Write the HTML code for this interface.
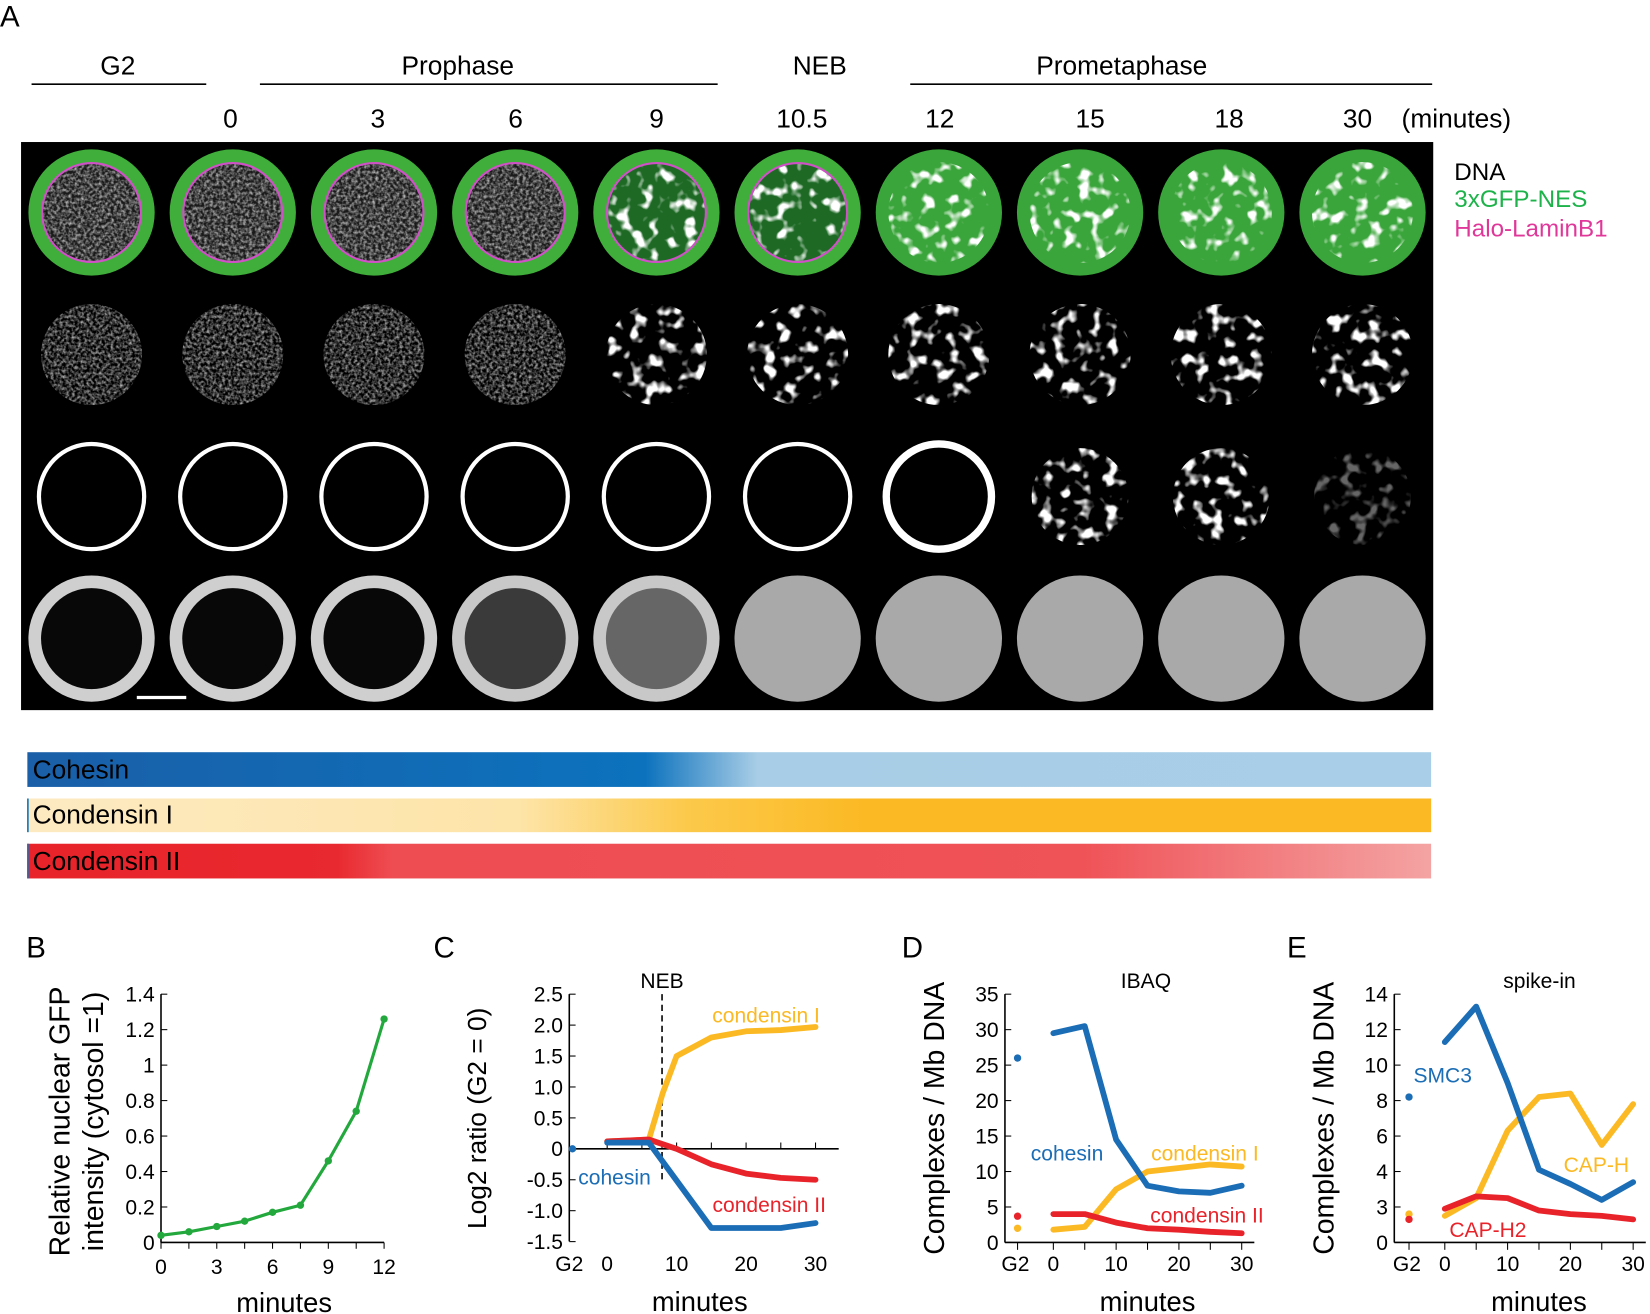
<!DOCTYPE html>
<html><head><meta charset="utf-8"><style>
html,body{margin:0;padding:0;background:#fff;}
svg{display:block;font-family:"Liberation Sans",sans-serif;}
</style></head><body>
<svg id="fig" width="1650" height="1314" viewBox="0 0 1568 1249" preserveAspectRatio="none" xmlns="http://www.w3.org/2000/svg">
<defs>
<filter id="noise" x="0" y="0" width="100%" height="100%"><feTurbulence type="fractalNoise" baseFrequency="0.35" numOctaves="2" seed="3"/><feColorMatrix values="0 0 0 0 1  0 0 0 0 1  0 0 0 0 1  0 0 0 1.3 -0.45"/><feComposite in2="SourceGraphic" operator="in"/></filter>
<filter id="blobs" x="0" y="0" width="100%" height="100%"><feTurbulence type="fractalNoise" baseFrequency="0.08" numOctaves="2" seed="7"/><feColorMatrix values="0 0 0 0 1  0 0 0 0 1  0 0 0 0 1  0 0 0 6 -3.2"/><feComposite in2="SourceGraphic" operator="in"/></filter>
<linearGradient id="gCoh" x1="0" x2="1"><stop offset="0" stop-color="#1a5fa8"/><stop offset="0.44" stop-color="#0c72bd"/><stop offset="0.52" stop-color="#a8cde6"/><stop offset="1" stop-color="#a9cfe8"/></linearGradient>
<linearGradient id="gC1" x1="0" x2="1"><stop offset="0" stop-color="#fdeac2"/><stop offset="0.35" stop-color="#fde4a8"/><stop offset="0.47" stop-color="#fcc94a"/><stop offset="0.6" stop-color="#fbb923"/><stop offset="1" stop-color="#fbb923"/></linearGradient>
<linearGradient id="gC2" x1="0" x2="1"><stop offset="0" stop-color="#e8232a"/><stop offset="0.22" stop-color="#e8292f"/><stop offset="0.26" stop-color="#ee4d52"/><stop offset="0.75" stop-color="#ef5257"/><stop offset="1" stop-color="#f4a3a3"/></linearGradient>
</defs>

<text x="0" y="25" font-size="28">A</text>
<g font-size="25" text-anchor="middle">
<text x="112" y="71">G2</text><line x1="30" y1="80" x2="196" y2="80" stroke="#000" stroke-width="1.5"/>
<text x="435" y="71">Prophase</text><line x1="247" y1="80" x2="682" y2="80" stroke="#000" stroke-width="1.5"/>
<text x="779" y="71">NEB</text>
<text x="1066" y="71">Prometaphase</text><line x1="865" y1="80" x2="1361" y2="80" stroke="#000" stroke-width="1.5"/>
</g>
<g id="times" font-size="25" text-anchor="middle"></g>
<g font-size="23">
<text x="1382" y="171" fill="#000">DNA</text>
<text x="1382" y="197" fill="#1db34a">3xGFP-NES</text>
<text x="1382" y="225" fill="#e0389a">Halo-LaminB1</text>
</g>
<rect x="20" y="135" width="1342" height="540" fill="#000"/>
<g id="cells"></g>
<line x1="130" y1="663" x2="177" y2="663" stroke="#fff" stroke-width="3"/>

<g font-size="25">
<rect x="26" y="715" width="1334" height="33" fill="url(#gCoh)"/><text x="31" y="740">Cohesin</text>
<rect x="26" y="759" width="1334" height="32" fill="url(#gC1)"/><line x1="26.5" y1="759" x2="26.5" y2="791" stroke="#0c72bd" stroke-width="1.5"/><text x="31" y="783">Condensin I</text>
<rect x="26" y="802" width="1334" height="33" fill="url(#gC2)"/><line x1="26.5" y1="802" x2="26.5" y2="835" stroke="#0c72bd" stroke-width="1.5"/><text x="31" y="827">Condensin II</text>
</g>

<g font-size="28">
<text x="25" y="910">B</text>
<text x="412" y="910">C</text>
<text x="857" y="910">D</text>
<text x="1223" y="910">E</text>
</g>
<g id="charts"></g>
</svg>
<script>
// ---------- chart data ----------
const timeLabels = ["0","3","6","9","10.5","12","15","18","30","(minutes)"];
const bX = [0,1.5,3,4.5,6,7.5,9,10.5,12];
const bY = [0.04,0.06,0.09,0.12,0.17,0.21,0.46,0.74,1.26];
const bYTicks = ["0","0.2","0.4","0.6","0.8","1","1.2","1.4"];
const bXTicks = [0,3,6,9,12];

const cXCohesin = [0,6,15,25,30];
const cYCohesin = [0.1,0.1,-1.28,-1.28,-1.2];
const cXCond1 = [0,6,8,10,15,20,25,30];
const cYCond1 = [0.12,0.15,0.9,1.5,1.8,1.9,1.92,1.97];
const cXCond2 = [0,6,10,15,20,25,30];
const cYCond2 = [0.12,0.15,0.0,-0.25,-0.4,-0.47,-0.5];
const cG2 = [0];
const cYTicks = ["-1.5","-1.0","-0.5","0","0.5","1.0","1.5","2.0","2.5"];
const cNEB = 7.9;

const dX = [0,5,10,15,20,25,30];
const dCohesin = [29.5,30.5,14.5,8,7.2,7,8];
const dCond1 = [1.8,2.2,7.5,10,10.5,11,10.7];
const dCond2 = [4,4,2.8,2,1.8,1.5,1.3];
const dG2 = [26,2,3.7];
const dYTicks = ["0","5","10","15","20","25","30","35"];

const eX = [0,5,10,15,20,25,30];
const eSMC3 = [11.3,13.3,9,4.1,3.3,2.4,3.4];
const eCAPH = [1.5,2.5,6.3,8.2,8.4,5.5,7.8];
const eCAPH2 = [1.9,2.6,2.5,1.8,1.6,1.5,1.3];
const eG2 = [8.2,1.6,1.3];
const eYTicks = ["0","3","4","6","8","10","12","14"];
const xTicksTime = ["G2","0","10","20","30"];

const NS="http://www.w3.org/2000/svg";
function mk(tag,attrs,parent,txt){const e=document.createElementNS(NS,tag);for(const k in attrs)e.setAttribute(k,attrs[k]);if(txt!==undefined)e.textContent=txt;parent.appendChild(e);return e;}
const C={blue:"#1b6db5",yel:"#fbb923",red:"#e8232a",green:"#22a83c"};

// time labels
const tl=document.getElementById('times');
const tlx=[219,359,490,624,762,893,1036,1168,1290,1384];
timeLabels.forEach((t,i)=>{const e=mk('text',{x:tlx[i],y:121},tl,t);

});

// cells
const cg=document.getElementById('cells');
for(let c=0;c<10;c++){
  const cx=20+134.2*c+67, r=60;
  let y=202;
  if(c<6){mk('circle',{cx,cy:y,r:r,fill:"#3fae3a"},cg);
    mk('circle',{cx,cy:y,r:47,fill:c<4?"#1a1a1a":"#1e6a25",stroke:"#d050c8","stroke-width":2},cg);
    mk('circle',{cx,cy:y,r:46,fill:"#888",filter:c<4?"url(#noise)":"url(#blobs)"},cg);}
  else {mk('circle',{cx,cy:y,r:r,fill:"#3aa53a"},cg);
    mk('circle',{cx,cy:y,r:48,fill:"#fff",filter:"url(#blobs)"},cg);}
  y=337;
  if(c<4) mk('circle',{cx,cy:y,r:48,fill:"#777",filter:"url(#noise)"},cg);
  else mk('circle',{cx,cy:y,r:48,fill:"#fff",filter:"url(#blobs)"},cg);
  y=472;
  if(c<7) mk('circle',{cx,cy:y,r:50,fill:"none",stroke:"#fff","stroke-width":c<6?4:7},cg);
  else mk('circle',{cx,cy:y,r:46,fill:"#fff",filter:"url(#blobs)",opacity:c==9?0.4:1},cg);
  y=607;
  if(c<3){mk('circle',{cx,cy:y,r:r,fill:"#cfcfcf"},cg);mk('circle',{cx,cy:y,r:48,fill:"#080808"},cg);}
  else if(c<5){mk('circle',{cx,cy:y,r:r,fill:"#c8c8c8"},cg);mk('circle',{cx,cy:y,r:48,fill:c==3?"#3a3a3a":"#666"},cg);}
  else mk('circle',{cx,cy:y,r:r,fill:"#a9a9a9"},cg);
}

const charts=document.getElementById('charts');
function axes(g,ox,x1,yTop,yBot){
  mk('line',{x1:ox,y1:yTop,x2:ox,y2:yBot,stroke:"#000","stroke-width":1.5},g);
  mk('line',{x1:ox,y1:yBot,x2:x1,y2:yBot,stroke:"#000","stroke-width":1.5},g);
}
function poly(g,xs,ys,fx,fy,col,w,name){
  const p=xs.map((x,i)=>fx(x)+","+fy(ys[i])).join(" ");
  const e=mk('polyline',{points:p,fill:"none",stroke:col,"stroke-width":w,"stroke-linejoin":"round","stroke-linecap":"round"},g);
  
  
  return e;
}
function dot(g,x,y,col,name){const e=mk('circle',{cx:x,cy:y,r:3.5,fill:col},g);
  
  }

// ---- B ----
{const g=mk('g',{},charts);
 const fx=x=>153+x*(365-153)/12, fy=v=>1181-v*(1181-945)/1.4;
 axes(g,153,365,945,1181);
 bYTicks.forEach((t,i)=>{const v=i*0.2;mk('line',{x1:153,y1:fy(v),x2:159,y2:fy(v),stroke:"#000"},g);mk('text',{x:147,y:fy(v)+7,"text-anchor":"end","font-size":20},g,t);});
 for(let x=0;x<=12;x+=1.5)mk('line',{x1:fx(x),y1:1181,x2:fx(x),y2:1187,stroke:"#000"},g);
 bXTicks.forEach(x=>mk('text',{x:fx(x),y:1211,"text-anchor":"middle","font-size":20},g,String(x)));
 poly(g,bX,bY,fx,fy,C.green,3,'gfp-line');
 bX.forEach((x,i)=>dot(g,fx(x),fy(bY[i]),C.green,'gfp-point'));
 mk('text',{x:270,y:1247,"text-anchor":"middle","font-size":26},g,"minutes");
 mk('text',{transform:"translate(66,1066) rotate(-90)","text-anchor":"middle","font-size":27},g,"Relative nuclear GFP");
 mk('text',{transform:"translate(98,1066) rotate(-90)","text-anchor":"middle","font-size":27},g,"intensity (cytosol =1)");
}
// ---- C ----
{const g=mk('g',{},charts);
 const fx=x=>577+x*(775-577)/30, fy=v=>1092-v*(1092-945)/2.5;
 mk('line',{x1:541,y1:945,x2:541,y2:1180,stroke:"#000","stroke-width":1.5},g);
 mk('line',{x1:541,y1:1092,x2:797,y2:1092,stroke:"#000","stroke-width":1.5},g);
 cYTicks.forEach((t,i)=>{const v=-1.5+i*0.5;mk('line',{x1:541,y1:fy(v),x2:547,y2:fy(v),stroke:"#000"},g);mk('text',{x:535,y:fy(v)+7,"text-anchor":"end","font-size":20},g,t);});
 for(let x=0;x<=30;x+=5)mk('line',{x1:fx(x),y1:1092,x2:fx(x),y2:1086,stroke:"#000"},g);
 const xl=[-5,0,10,20,30];xTicksTime.forEach((t,i)=>mk('text',{x:fx(xl[i])+(i==0?-3:0),y:1208,"text-anchor":"middle","font-size":20},g,t));
 const nb=mk('line',{x1:fx(cNEB),y1:945,x2:fx(cNEB),y2:1125,stroke:"#000","stroke-width":1.5,"stroke-dasharray":"6,4"},g);
 
 
 mk('text',{x:fx(cNEB),y:939,"text-anchor":"middle","font-size":20},g,"NEB");
 poly(g,cXCond1,cYCond1,fx,fy,C.yel,5.5,'condensin-i-line');
 poly(g,cXCond2,cYCond2,fx,fy,C.red,5.5,'condensin-ii-line');
 poly(g,cXCohesin,cYCohesin,fx,fy,C.blue,5.5,'cohesin-line');
 dot(g,fx(-5),fy(cG2[0]),C.blue,'cohesin-g2');
 mk('text',{x:728,y:972,"text-anchor":"middle","font-size":20,fill:C.yel},g,"condensin I");
 mk('text',{x:731,y:1152,"text-anchor":"middle","font-size":20,fill:C.red},g,"condensin II");
 mk('text',{x:584,y:1126,"text-anchor":"middle","font-size":20,fill:C.blue},g,"cohesin");
 mk('text',{x:665,y:1246,"text-anchor":"middle","font-size":26},g,"minutes");
 mk('text',{transform:"translate(462,1063) rotate(-90)","text-anchor":"middle","font-size":25},g,"Log2 ratio  (G2 = 0)");
}
function chartDE(name,ox,x0,x30,ymax,ticks,series,g2,labels,title,titleX){
 const g=mk('g',{},charts);
 const fx=x=>x0+x*(x30-x0)/30, fy=v=>1181-v*(1181-945)/ymax;
 axes(g,ox,ox+(x30-ox)+12,945,1181);
 ticks.forEach((t,i)=>{const v=i*ymax/(ticks.length-1);mk('line',{x1:ox,y1:fy(v),x2:ox+6,y2:fy(v),stroke:"#000"},g);mk('text',{x:ox-6,y:fy(v)+7,"text-anchor":"end","font-size":20},g,t);});
 const xl=[-5.7,0,10,20,30];
 xl.forEach((x,i)=>{mk('line',{x1:fx(x),y1:1181,x2:fx(x),y2:1188,stroke:"#000"},g);mk('text',{x:fx(x)-(i==0?2:0),y:1208,"text-anchor":"middle","font-size":20},g,xTicksTime[i]);});
 [5,15,25].forEach(x=>mk('line',{x1:fx(x),y1:1181,x2:fx(x),y2:1188,stroke:"#000"},g));
 const cols=[C.blue,C.yel,C.red];
 [1,2,0].forEach(k=>poly(g,series.x,series.y[k],fx,fy,cols[k],5.5,series.names[k]+'-line'));
 g2.forEach((v,k)=>dot(g,fx(-5.7),fy(v),cols[k],series.names[k]+'-g2'));
 labels.forEach(l=>mk('text',{x:l[0],y:l[1],"text-anchor":"middle","font-size":20,fill:l[3]},g,l[2]));
 mk('text',{x:titleX,y:939,"text-anchor":"middle","font-size":20},g,title);
 mk('text',{x:fx(15),y:1246,"text-anchor":"middle","font-size":26},g,"minutes");
 mk('text',{transform:`translate(${ox-58},1063) rotate(-90)`,"text-anchor":"middle","font-size":27},g,"Complexes / Mb DNA");
}
chartDE('chart-d',955,1001,1180,35,dYTicks,{x:dX,y:[dCohesin,dCond1,dCond2],names:['cohesin','condensin-i','condensin-ii']},dG2,
 [[1014,1103,"cohesin",C.blue],[1145,1103,"condensin I",C.yel],[1147,1162,"condensin II",C.red]],"IBAQ",1089);
chartDE('chart-e',1325,1373,1552,14,eYTicks,{x:eX,y:[eSMC3,eCAPH,eCAPH2],names:['smc3','cap-h','cap-h2']},eG2,
 [[1371,1029,"SMC3",C.blue],[1517,1114,"CAP-H",C.yel],[1414,1176,"CAP-H2",C.red]],"spike-in",1463);
</script>
</body></html>
